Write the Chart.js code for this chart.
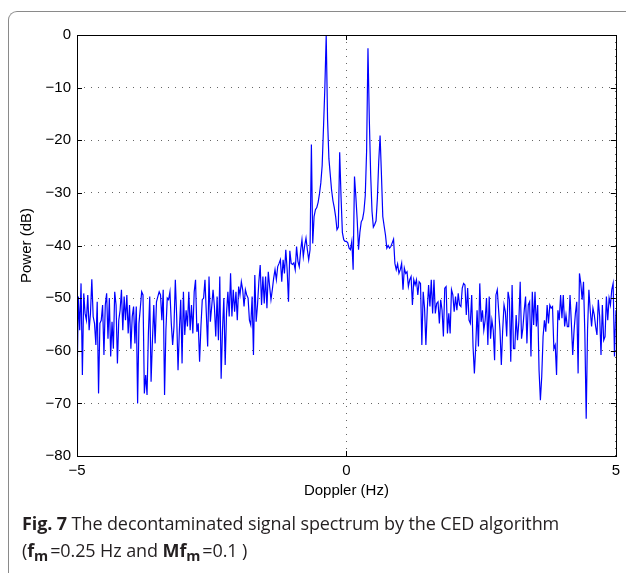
<!DOCTYPE html>
<html>
<head>
<meta charset="utf-8">
<script src="https://cdn.jsdelivr.net/npm/chart.js@4.4.1/dist/chart.umd.min.js"></script>
<style>
  html, body { margin: 0; padding: 0; background: #fff; }
  #wrap { position: relative; width: 626px; height: 573px; overflow: hidden; }
  #frame {
    position: absolute; left: 8px; top: 11px; width: 640px; height: 600px;
    border-left: 1.5px solid #8a8a8a; border-top: 1.5px solid #8a8a8a;
    border-top-left-radius: 9px; box-sizing: border-box;
  }
  #spectrum { position: absolute; left: 0; top: 0; }
  #caption {
    position: absolute; left: 22px; top: 510px;
    font-family: "Open Sans", sans-serif; font-size: 18px; line-height: 27px;
    color: #231f20; white-space: nowrap; letter-spacing: -0.1px;
  }
  #caption b { font-weight: 700; }
  #caption sub { font-size: 0.8em; vertical-align: -0.28em; line-height: 0; margin-right: 2px; }
</style>
</head>
<body>
<div id="wrap">
  <div id="frame"></div>
  <canvas id="spectrum" width="626" height="573"></canvas>
  <div id="caption">
    <div><b>Fig. 7</b> The decontaminated signal spectrum by the CED algorithm</div>
    <div>(<b>f<sub>m</sub></b>=0.25 Hz and <b>Mf<sub>m</sub></b>=0.1 )</div>
  </div>
</div>
<script>
// Doppler bins: -5 Hz to 5 Hz, 0.025 Hz apart (401 bins)
const freqStart = -5;
const freqStep = 0.025;

// power in dB, split by band
const noiseFarLeft = [
  -66.9, -49.7, -56.1, -47.2, -64.6, -49.1, -52.9, -54.2, -49.4, -56.1,
  -52.9, -46.4, -53.5, -54.8, -58.9, -50.7, -68.1, -54.8, -54.2, -51.3,
  -60.8, -51.3, -49.1, -57.7, -50.0, -61.1, -54.5, -59.6, -48.8, -51.3,
  -62.4, -54.2, -52.3, -48.4, -56.1, -49.7, -54.2, -49.4, -56.7, -51.3,
  -59.6, -53.5, -51.6, -58.6, -51.6, -70.0, -54.8, -51.9, -48.8, -49.4,
  -68.1, -64.6, -68.4, -56.7, -49.7, -65.9, -58.0, -51.3, -58.6, -50.7,
  -49.7, -48.8, -49.4, -54.2, -48.4, -68.4, -56.1, -50.0, -50.3, -48.8,
  -54.8, -58.9, -55.4, -46.5, -53.5, -63.7, -56.1
];
const noiseNearLeft = [
  -50.3, -62.4, -48.8, -57.0, -52.3, -55.4, -48.8, -56.1, -51.3, -56.7,
  -48.8, -46.5, -56.4, -54.8, -62.1, -55.4, -50.3, -50.0, -46.5, -52.9,
  -59.2, -45.9, -54.5, -51.6, -48.4, -51.6, -57.3, -49.7, -58.0, -45.9,
  -65.3, -56.1, -50.0, -62.7, -52.9, -48.8, -53.5, -45.3, -53.5, -48.4,
  -52.6, -48.8, -54.2, -47.8, -49.4, -46.9, -48.4, -51.6, -48.4, -49.4,
  -50.0, -54.2, -55.1, -49.7, -60.8, -45.6, -54.5, -51.3, -46.9, -43.7,
  -51.3, -45.9, -51.0, -45.9, -51.9, -45.0, -47.8, -50.3, -48.4, -46.2,
  -44.6, -46.5, -44.0, -43.4, -42.7, -46.9, -42.7, -45.3, -40.8, -44.6,
  -50.7
];
const centre = [
  -41.0, -43.4, -43.6, -43.3, -44.6, -40.2, -43.0, -44.0, -41.0, -38.9,
  -42.1, -40.0, -38.6, -40.8, -42.7, -40.8, -20.8, -39.6, -34.5, -33.2,
  -32.8, -31.8, -30.2, -28.1, -24.8, -17.5, -10.0, 0, -16.0, -23.5,
  -26.5, -29.5, -31.5, -32.8, -34.5, -37.0, -36.5, -22.3, -30.7, -37.5,
  -38.9, -39.2, -39.2, -39.5, -40.5, -40.8, -39.2, -44.6, -26.9, -30.7,
  -35.1, -40.8, -37.5, -35.5, -35.0, -33.5, -30.5, -22.0, -2.5, -16.0,
  -26.5, -33.5, -36.5, -36.0, -35.3, -31.0, -24.0, -19.1, -26.5, -34.5,
  -36.3, -38.0, -40.5, -40.0, -40.5, -40.2, -39.5, -38.8, -43.4, -44.6,
  -43.5, -45.3
];
const noiseNearRight = [
  -44.6, -43.4, -48.4, -44.3, -45.3, -45.0, -47.8, -46.5, -45.9, -51.3,
  -46.5, -47.5, -46.5, -49.4, -46.9, -47.2, -58.9, -48.8, -51.9, -58.9,
  -52.3, -47.5, -51.6, -46.5, -52.9, -46.5, -52.9, -51.0, -50.7, -54.8,
  -50.3, -52.3, -57.3, -48.1, -47.8, -56.7, -52.9, -56.7, -48.4, -49.4,
  -52.6, -49.7, -52.3, -49.1, -51.3, -51.6, -48.1, -47.2, -47.5, -53.2,
  -48.1, -54.2, -54.8, -49.4, -59.2, -64.3, -59.2, -52.3, -59.2, -47.2,
  -54.5, -52.3, -56.1, -54.2, -50.0, -58.9, -49.7, -57.7, -54.2, -56.1,
  -61.8, -49.4, -48.4, -52.3, -56.1, -62.7, -56.1, -51.3, -52.6, -57.3,
  -48.8
];
const noiseFarRight = [
  -50.3, -62.1, -47.5, -59.6, -59.6, -53.2, -58.0, -54.5, -46.9, -57.7,
  -55.7, -52.3, -49.7, -58.6, -51.3, -50.7, -61.1, -48.8, -55.1, -48.8,
  -55.4, -51.3, -63.7, -69.4, -64.9, -57.3, -54.2, -56.4, -51.3, -54.8,
  -51.3, -51.9, -51.6, -59.6, -58.9, -64.6, -52.3, -54.2, -49.4, -53.8,
  -49.4, -55.4, -53.2, -55.4, -55.4, -49.4, -54.8, -60.8, -56.1, -52.9,
  -50.7, -64.3, -45.3, -47.2, -50.3, -46.9, -56.7, -72.9, -56.1, -48.4,
  -52.3, -55.4, -51.9, -53.2, -55.4, -57.0, -50.3, -53.5, -60.8, -51.3,
  -58.0, -57.3, -49.7, -54.2, -50.0, -51.3, -48.4, -47.2, -61.1, -52.3
];

const xTicks = [-5, 0, 5];
const yTicks = [-80, -70, -60, -50, -40, -30, -20, -10, 0];

const power = [].concat(noiseFarLeft, noiseNearLeft, centre, noiseNearRight, noiseFarRight);
const points = power.map((p, i) => ({ x: freqStart + i * freqStep, y: p }));

const tickFont = { family: "'Liberation Sans', Arial, sans-serif", size: 15 };
const minus = v => String(v).replace('-', '\u2212');

// matlab-style box with inward tick marks on all four sides
const axesBox = {
  id: 'axesBox',
  afterDatasetsDraw(chart) {
    const { ctx, chartArea: a, scales: { x, y } } = chart;
    const len = 5;
    ctx.save();
    ctx.strokeStyle = '#000';
    ctx.lineWidth = 1;
    ctx.beginPath();
    yTicks.forEach(v => {
      const py = Math.round(y.getPixelForValue(v)) + 0.5;
      ctx.moveTo(a.left, py); ctx.lineTo(a.left + len, py);
      ctx.moveTo(a.right, py); ctx.lineTo(a.right - len, py);
    });
    xTicks.forEach(v => {
      const px = Math.round(x.getPixelForValue(v)) + 0.5;
      ctx.moveTo(px, a.bottom); ctx.lineTo(px, a.bottom - len);
      ctx.moveTo(px, a.top); ctx.lineTo(px, a.top + len);
    });
    ctx.stroke();
    ctx.strokeRect(Math.round(a.left) + 0.5, Math.round(a.top) + 0.5,
                   Math.round(a.width), Math.round(a.height));
    ctx.restore();
  }
};

new Chart(document.getElementById('spectrum'), {
  type: 'line',
  data: {
    datasets: [{
      data: points,
      borderColor: '#0000ff',
      borderWidth: 1.2,
      pointRadius: 0,
      tension: 0,
      fill: false
    }]
  },
  options: {
    responsive: false,
    animation: false,
    events: [],
    layout: { padding: { left: 0, top: 35, right: 9, bottom: 67 } },
    plugins: { legend: { display: false }, tooltip: { enabled: false } },
    scales: {
      x: {
        type: 'linear', min: -5, max: 5,
        afterBuildTicks: s => { s.ticks = xTicks.map(v => ({ value: v })); },
        afterFit: s => { s.height = 50; },
        ticks: { font: tickFont, color: '#000', padding: 6, maxRotation: 0, callback: minus },
        grid: { color: 'rgba(0,0,0,0.6)', lineWidth: 1, drawTicks: false },
        border: { display: false, dash: [1, 6] },
        title: { display: true, text: 'Doppler (Hz)', font: tickFont, color: '#000', padding: { top: 0, bottom: 6 } }
      },
      y: {
        min: -80, max: 0,
        afterBuildTicks: s => { s.ticks = yTicks.map(v => ({ value: v })); },
        afterFit: s => { s.width = 77; },
        ticks: { font: tickFont, color: '#000', padding: 6, callback: minus },
        grid: { color: 'rgba(0,0,0,0.6)', lineWidth: 1, drawTicks: false },
        border: { display: false, dash: [1, 6] },
        title: { display: true, text: 'Power (dB)', font: tickFont, color: '#000', padding: { top: 18, bottom: 0 } }
      }
    }
  },
  plugins: [axesBox]
});
</script>
</body>
</html>
